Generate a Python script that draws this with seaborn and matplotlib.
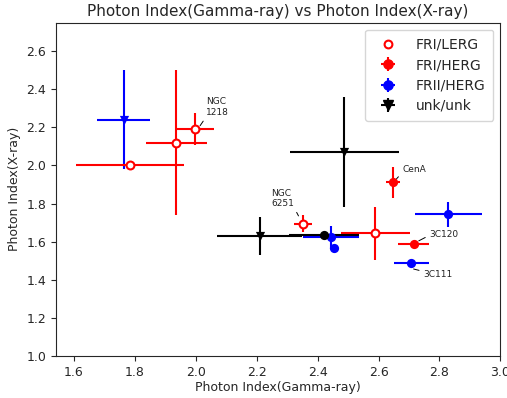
import numpy as np
import pandas as pd
import matplotlib
matplotlib.use('Agg')
import matplotlib.pyplot as plt
import seaborn as sns
from matplotlib.lines import Line2D

### data

# FRI/LERG (open red circles)
lerg_x = [1.783, 1.935, 1.996, 2.351, 2.589]
lerg_y = [2.00, 2.12, 2.19, 1.693, 1.644]
lerg_xerr = [0.177, 0.10, 0.062, 0.03, 0.114]
lerg_yerr = [0.0, 0.38, 0.085, 0.045, 0.14]

# FRI/HERG (filled red circles)
fri_herg_x = [2.647, 2.715]
fri_herg_y = [1.911, 1.586]
fri_herg_xerr = [0.022, 0.05]
fri_herg_yerr = [0.08, 0.0]

# FRII/HERG (filled blue circles)
frii_herg_x = [2.708, 2.829, 2.444, 2.452]
frii_herg_y = [1.486, 1.744, 1.623, 1.565]
frii_herg_xerr = [0.057, 0.11, 0.092, 0.0]
frii_herg_yerr = [0.0, 0.065, 0.06, 0.0]

# FRII/unk (blue triangle, not in legend)
frii_unk_x = [1.763]
frii_unk_y = [2.24]
frii_unk_xerr = [0.088]
frii_unk_yerr = [0.26]

# unk/unk (black triangles)
unk_x = [2.488, 2.209]
unk_y = [2.07, 1.63]
unk_xerr = [0.18, 0.14]
unk_yerr = [0.29, 0.10]

# unk/other (black circle, not in legend)
unk_o_x = [2.422]
unk_o_y = [1.635]
unk_o_xerr = [0.115]
unk_o_yerr = [0.0]

# labelled sources: name, point end of leader line, text position
names = ['NGC\n1218', 'CenA', 'NGC\n6251', '3C120', '3C111']
name_xy = [(2.014, 2.209), (2.659, 1.93), (2.337, 1.735), (2.732, 1.604), (2.715, 1.456)]
name_txt = [(2.034, 2.256), (2.679, 1.955), (2.248, 1.777), (2.768, 1.615), (2.748, 1.405)]
name_rel = [(0, 0), (0, 0.2), (1, 0), (0, 0.4), (0, 0.8)]

#%% plot
sns.set_style('ticks')
fig = plt.figure(figsize=(5.07, 3.98), dpi=100)
ax = fig.add_axes([0.110, 0.106, 0.877, 0.837])

lw = 1.5

def bars(x, y, xe, ye, c, z=2):
    ax.errorbar(x, y, xerr=xe, yerr=ye, fmt='none', ecolor=c, elinewidth=lw, capsize=0, zorder=z)

bars(unk_x, unk_y, unk_xerr, unk_yerr, 'black')
bars(frii_unk_x, frii_unk_y, frii_unk_xerr, frii_unk_yerr, 'blue')
bars(lerg_x, lerg_y, lerg_xerr, lerg_yerr, 'red')
bars(fri_herg_x, fri_herg_y, fri_herg_xerr, fri_herg_yerr, 'red')
bars(frii_herg_x, frii_herg_y, frii_herg_xerr, frii_herg_yerr, 'blue')
bars(unk_o_x, unk_o_y, unk_o_xerr, unk_o_yerr, 'black')

ms = 44
sns.scatterplot(x=unk_x, y=unk_y, marker='v', color='black', s=ms, linewidth=0, ax=ax, zorder=3)
sns.scatterplot(x=frii_unk_x, y=frii_unk_y, marker='v', color='blue', s=ms, linewidth=0, ax=ax, zorder=3)
sns.scatterplot(x=lerg_x, y=lerg_y, marker='o', facecolor='white', edgecolor='red', s=32, linewidth=1.5, ax=ax, zorder=3)
sns.scatterplot(x=fri_herg_x, y=fri_herg_y, marker='o', color='red', s=ms, linewidth=0, ax=ax, zorder=3)
sns.scatterplot(x=frii_herg_x, y=frii_herg_y, marker='o', color='blue', s=ms, linewidth=0, ax=ax, zorder=3)
sns.scatterplot(x=unk_o_x, y=unk_o_y, marker='o', color='black', s=ms, linewidth=0, ax=ax, zorder=4)

for n, xy, xt, rp in zip(names, name_xy, name_txt, name_rel):
    ax.annotate(n, xy=xy, xytext=xt, fontsize=6.5, ha='left', va='bottom', color='#222222',
                arrowprops=dict(arrowstyle='-', lw=0.7, color='black', relpos=rp, shrinkA=1, shrinkB=0))

ax.set_xlim(1.54, 3.0)
ax.set_ylim(1.0, 2.75)
ax.set_xticks(np.arange(1.6, 3.01, 0.2))
ax.set_yticks(np.arange(1.0, 2.61, 0.2))
ax.tick_params(labelsize=9)
ax.set_xlabel('Photon Index(Gamma-ray)', fontsize=9, labelpad=2)
ax.set_ylabel('Photon Index(X-ray)', fontsize=9, labelpad=4)
ax.set_title('Photon Index(Gamma-ray) vs Photon Index(X-ray)', fontsize=11, pad=5)

# legend handles
h1 = Line2D([], [], marker='o', ls='none', mfc='white', mec='red', mew=1.5, ms=5.6)
h2 = ax.errorbar([], [], xerr=[], yerr=[], fmt='o', color='red', ms=6.6, elinewidth=lw)
h3 = ax.errorbar([], [], xerr=[], yerr=[], fmt='o', color='blue', ms=6.6, elinewidth=lw)
h4 = ax.errorbar([], [], xerr=[], yerr=[], fmt='v', color='black', ms=6.6, elinewidth=lw)
ax.legend([h1, h2, h3, h4], ['FRI/LERG', 'FRI/HERG', 'FRII/HERG', 'unk/unk'],
          loc='upper right', fontsize=10, frameon=True, handlelength=2.0,
          labelspacing=0.45, handletextpad=1.0, borderpad=0.6)

plt.savefig('out.png', dpi=100)
